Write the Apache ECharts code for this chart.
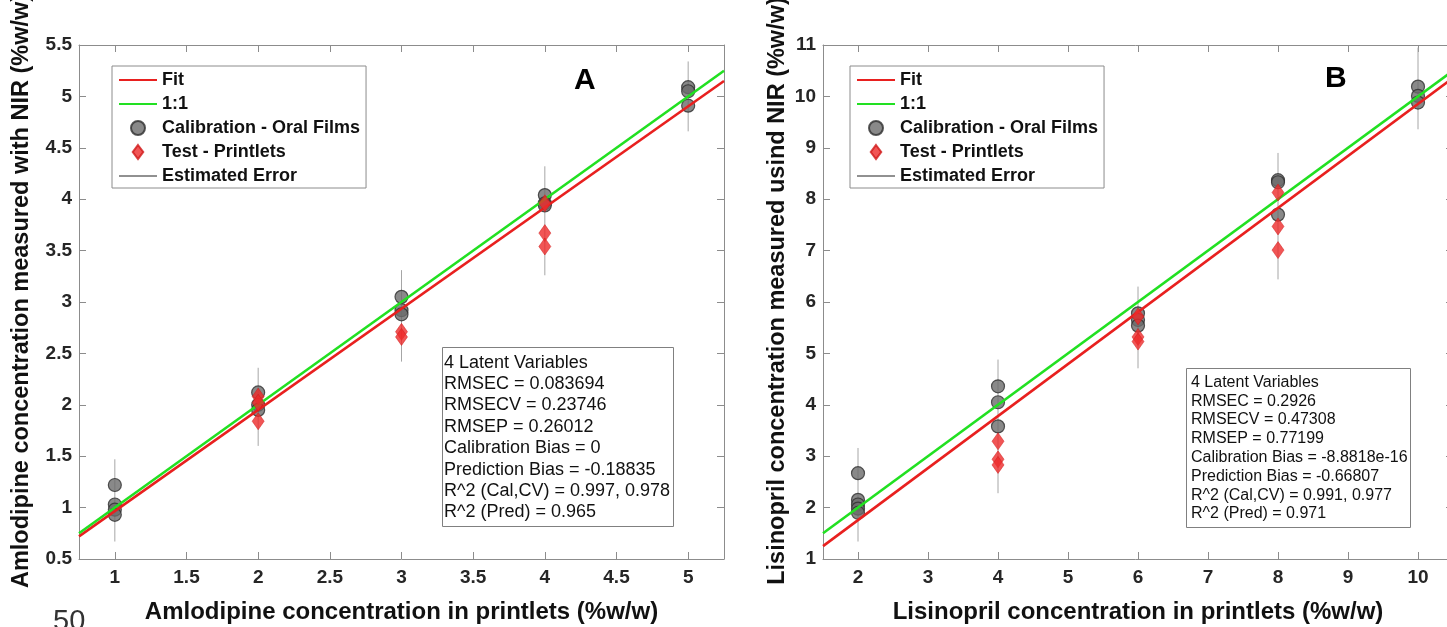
<!DOCTYPE html>
<html>
<head>
<meta charset="utf-8">
<title>NIR calibration - amlodipine / lisinopril</title>
<script src="https://cdn.jsdelivr.net/npm/echarts@6/dist/echarts.min.js"></script>
<style>
    html, body { margin: 0; padding: 0; background: #fff; }
    #chart { width: 1447px; height: 627px; }
</style>
</head>
<body>
<div id="chart"></div>
<script>
// ---------- panel A : amlodipine ----------
var calAx = [1, 1, 1, 1, 2, 2, 2, 3, 3, 3, 4, 4, 4, 5, 5, 5];
var calAy = [1.22, 1.03, 0.98, 0.93, 2.12, 2.00, 1.95, 3.05, 2.92, 2.88, 4.04, 3.96, 3.94, 5.09, 5.05, 4.91];
var testAx = [2, 2, 2, 3, 3, 4, 4, 4];
var testAy = [2.08, 2.02, 1.84, 2.71, 2.66, 3.96, 3.67, 3.54];
var errAx = [1, 2, 3, 4, 5];
var errAlo = [0.67, 1.60, 2.42, 3.26, 4.66];
var errAhi = [1.47, 2.36, 3.31, 4.32, 5.34];
var lineAx = [0.75, 5.25];
var fitAy = [0.72, 5.15];
var oneAy = [0.75, 5.25];
var statsA = ['4 Latent Variables', 'RMSEC = 0.083694', 'RMSECV = 0.23746', 'RMSEP = 0.26012',
    'Calibration Bias = 0', 'Prediction Bias = -0.18835', 'R^2 (Cal,CV) = 0.997, 0.978', 'R^2 (Pred) = 0.965'];

// ---------- panel B : lisinopril ----------
var calBx = [2, 2, 2, 2, 2, 4, 4, 4, 6, 6, 6, 8, 8, 8, 10, 10, 10];
var calBy = [2.67, 2.15, 2.06, 1.98, 1.90, 4.36, 4.05, 3.58, 5.78, 5.65, 5.54, 8.37, 8.33, 7.70, 10.19, 10.01, 9.88];
var testBx = [4, 4, 4, 6, 6, 6, 8, 8, 8];
var testBy = [3.29, 2.94, 2.83, 5.72, 5.32, 5.23, 8.13, 7.47, 7.01];
var errBx = [2, 4, 6, 8, 10];
var errBlo = [1.34, 2.28, 4.71, 6.44, 9.36];
var errBhi = [3.16, 4.88, 6.30, 8.90, 10.95];
var lineBx = [1.5, 10.5];
var fitBy = [1.25, 10.36];
var oneBy = [1.5, 10.5];
var statsB = ['4 Latent Variables', 'RMSEC = 0.2926', 'RMSECV = 0.47308', 'RMSEP = 0.77199',
    'Calibration Bias = -8.8818e-16', 'Prediction Bias = -0.66807', 'R^2 (Cal,CV) = 0.991, 0.977', 'R^2 (Pred) = 0.971'];

var FONT = '"Liberation Sans", Arial, Helvetica, sans-serif';
var AXIS_GRAY = '#8c8c8c';
var RED = '#e8201f';
var GREEN = '#22e022';
var DIAMOND = 'path://M6,0 L12,8 L6,16 L0,8 Z';

function pairs(xs, ys) {
    return xs.map(function (x, i) { return [x, ys[i]]; });
}

// main axis (labels + title) and a mirror axis for the box ticks
function xAxes(gridIndex, min, max, split, name, gap) {
    var base = {
        type: 'value', gridIndex: gridIndex, min: min, max: max, splitNumber: split,
        splitLine: {show: false},
        axisLine: {lineStyle: {color: AXIS_GRAY, width: 1}},
        axisTick: {inside: true, length: 7, lineStyle: {color: AXIS_GRAY}}
    };
    return [
        Object.assign({}, base, {
            position: 'bottom', name: name, nameLocation: 'middle', nameGap: gap,
            nameTextStyle: {fontFamily: FONT, fontSize: 24, fontWeight: 'bold', color: '#111'},
            axisLabel: {fontFamily: FONT, fontSize: 19, fontWeight: 'bold', color: '#262626', margin: 9,
                showMinLabel: false, showMaxLabel: false}
        }),
        Object.assign({}, base, {position: 'top', axisLabel: {show: false}})
    ];
}

function yAxes(gridIndex, min, max, interval, name, gap) {
    var base = {
        type: 'value', gridIndex: gridIndex, min: min, max: max, interval: interval,
        splitLine: {show: false},
        axisLine: {lineStyle: {color: AXIS_GRAY, width: 1}},
        axisTick: {inside: true, length: 7, lineStyle: {color: AXIS_GRAY}}
    };
    return [
        Object.assign({}, base, {
            position: 'left', name: name, nameLocation: 'middle', nameGap: gap,
            // left padding moves the rotated title a little up the axis
            nameTextStyle: {fontFamily: FONT, fontSize: 23.5, fontWeight: 'bold', color: '#111',
                padding: [0, 0, 0, 22]},
            axisLabel: {fontFamily: FONT, fontSize: 19, fontWeight: 'bold', color: '#262626', margin: 7}
        }),
        Object.assign({}, base, {position: 'right', axisLabel: {show: false}})
    ];
}

function panelSeries(xIdx, yIdx, calX, calY, testX, testY, errX, errLo, errHi, lineX, fitY, oneY) {
    var list = [];
    // error bars, one small line per concentration
    errX.forEach(function (x, i) {
        list.push({
            name: 'Estimated Error', type: 'line', xAxisIndex: xIdx, yAxisIndex: yIdx,
            data: [[x, errLo[i]], [x, errHi[i]]], symbol: 'none', silent: true, z: 1,
            lineStyle: {color: '#a6a6a6', width: 1}, itemStyle: {color: '#222'}
        });
    });
    list.push({
        name: 'Calibration - Oral Films', type: 'scatter', xAxisIndex: xIdx, yAxisIndex: yIdx,
        data: pairs(calX, calY), symbol: 'circle', symbolSize: 13, z: 2,
        itemStyle: {color: '#6b6b6b', borderColor: '#2e2e2e', borderWidth: 1.2}
    });
    list.push({
        name: 'Fit', type: 'line', xAxisIndex: xIdx, yAxisIndex: yIdx,
        data: pairs(lineX, fitY), symbol: 'none', z: 3,
        lineStyle: {color: RED, width: 2.6}, itemStyle: {color: RED}
    });
    list.push({
        name: '1:1', type: 'line', xAxisIndex: xIdx, yAxisIndex: yIdx,
        data: pairs(lineX, oneY), symbol: 'none', z: 3,
        lineStyle: {color: GREEN, width: 2.6}, itemStyle: {color: GREEN}
    });
    list.push({
        name: 'Test - Printlets', type: 'scatter', xAxisIndex: xIdx, yAxisIndex: yIdx,
        data: pairs(testX, testY), symbol: 'diamond', symbolSize: [12, 17], z: 4,
        itemStyle: {color: '#ee2a2a', borderColor: '#d01818', borderWidth: 0.6}
    });
    return list;
}

function legendAt(left) {
    var noDot = {opacity: 0};
    return {
        left: left, top: 66, orient: 'vertical', selectedMode: false,
        itemWidth: 38, itemHeight: 14, itemGap: 6,
        padding: [5, 6, 3, 6],
        borderColor: '#8c8c8c', borderWidth: 1, backgroundColor: '#fff',
        textStyle: {fontFamily: FONT, fontSize: 18, fontWeight: 'bold', color: '#111'},
        data: [
            {name: 'Fit', itemStyle: noDot},
            {name: '1:1', itemStyle: noDot},
            {name: 'Calibration - Oral Films', icon: 'circle'},
            {name: 'Test - Printlets', icon: DIAMOND},
            {name: 'Estimated Error', itemStyle: noDot, lineStyle: {color: '#222', width: 1}}
        ]
    };
}

function statsBox(lines, left, top, size, lh, pad) {
    return {
        text: lines.join('\n'), left: left, top: top, padding: pad,
        borderColor: '#808080', borderWidth: 1, backgroundColor: '#fff',
        textStyle: {fontFamily: FONT, fontSize: size, fontWeight: 'normal', lineHeight: lh, color: '#111'}
    };
}

var chart = echarts.init(document.getElementById('chart'));
chart.setOption({
    animation: false,
    backgroundColor: '#fff',
    // fixed plot boxes: the axis titles may run off the page like in the original
    grid: [
        {left: 79, top: 45, width: 645, height: 514, outerBoundsMode: 'none'},
        {left: 823, top: 45, width: 630, height: 514, outerBoundsMode: 'none'}
    ],
    xAxis: xAxes(0, 0.75, 5.25, 9, 'Amlodipine concentration in printlets (%w/w)', 41)
        .concat(xAxes(1, 1.5, 10.5, 9, 'Lisinopril concentration in printlets (%w/w)', 41)),
    yAxis: yAxes(0, 0.5, 5.5, 0.5, 'Amlodipine concentration measured with NIR (%w/w)', 45)
        .concat(yAxes(1, 1, 11, 1, 'Lisinopril concentration measured usind NIR (%w/w)', 33)),
    legend: [legendAt(112), legendAt(850)],
    title: [
        statsBox(statsA, 442, 347, 18, 21.4, [5, 4, 4, 2]),
        statsBox(statsB, 1186, 368, 16, 18.8, [5, 3, 4, 5]),
        {text: 'A', left: 574, top: 66, padding: 0,
            textStyle: {fontFamily: FONT, fontSize: 30, fontWeight: 'bold', color: '#000'}},
        {text: 'B', left: 1325, top: 64, padding: 0,
            textStyle: {fontFamily: FONT, fontSize: 30, fontWeight: 'bold', color: '#000'}},
        {text: '50', left: 53, top: 607, padding: 0,
            textStyle: {fontFamily: FONT, fontSize: 29, fontWeight: 'normal', color: '#333'}}
    ],
    series: panelSeries(0, 0, calAx, calAy, testAx, testAy, errAx, errAlo, errAhi, lineAx, fitAy, oneAy)
        .concat(panelSeries(2, 2, calBx, calBy, testBx, testBy, errBx, errBlo, errBhi, lineBx, fitBy, oneBy))
});
</script>
</body>
</html>
